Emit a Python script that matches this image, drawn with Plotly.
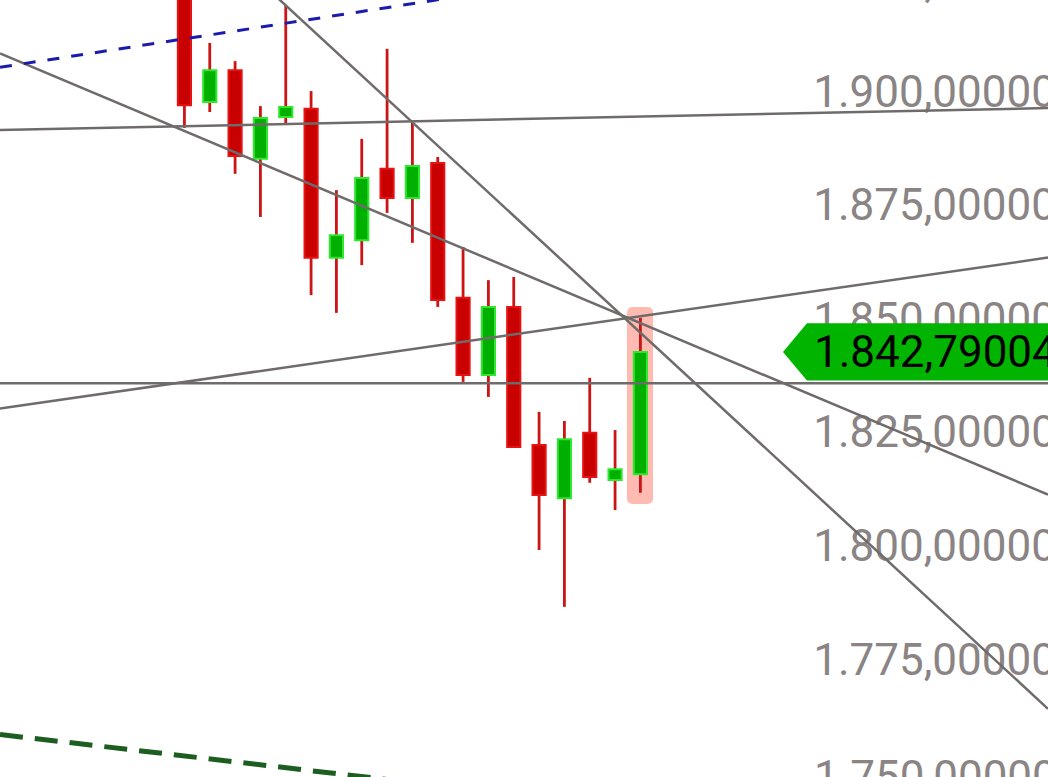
import plotly.graph_objects as go

# ---- data ----
opens = [1930.0, 1897.8, 1904.8, 1885.3, 1894.5, 1896.3, 1863.5, 1867.4, 1883.1, 1876.7,
         1884.4, 1854.7, 1837.7, 1852.7, 1822.3, 1810.6, 1825.0, 1814.6, 1815.9]
highs = [1934.0, 1910.8, 1906.8, 1896.9, 1919.1, 1900.2, 1878.4, 1889.7, 1909.5, 1893.4,
         1885.7, 1865.9, 1858.6, 1859.3, 1829.6, 1827.6, 1837.1, 1825.6, 1850.3]
lows = [1892.1, 1895.6, 1882.0, 1872.5, 1893.0, 1855.3, 1851.4, 1861.9, 1873.4, 1866.8,
        1852.7, 1836.2, 1832.9, 1821.9, 1799.2, 1786.7, 1814.0, 1808.0, 1811.8]
closes = [1897.1, 1904.8, 1885.9, 1894.3, 1896.7, 1863.5, 1868.5, 1881.1, 1876.7, 1883.7,
          1854.2, 1837.7, 1852.7, 1821.9, 1811.3, 1823.6, 1815.3, 1817.0, 1842.79]

tick_values = [1925, 1900, 1875, 1850, 1825, 1800, 1775, 1750]
last_price = 1842.79004

# trend lines (index, price) endpoints
gray_lines_x = [[-7.28, 34.09], [-7.28, 34.09], [3.0, 34.09], [-7.28, 34.09], [-7.28, 34.09]]
gray_lines_y = [[1891.64, 1896.48], [1908.49, 1811.40], [1924.2, 1764.25], [1830.35, 1863.56],
                [1835.9, 1835.9]]
blue_line_x = [-7.28, 20.0]
blue_line_y = [1905.44, 1928.9]
green_line_x = [-7.28, 12.0]
green_line_y = [1758.6, 1746.1]

x_range = [-7.28, 34.09]
y_range = [1749.25, 1920.25]
label_offset = -0.8


def fmt(v, d=5):
    s = f"{v:,.{d}f}"
    return s.replace(",", "X").replace(".", ",").replace("X", ".")


idx = list(range(len(opens)))
up = [c >= o for o, c in zip(opens, closes)]
fills = ["#00b000" if u else "#c80000" for u in up]
borders = ["#2ee82e" if u else "#e81212" for u in up]
tick_font = dict(family="Roboto", size=44, color="#8a8484")

inside = [v for v in tick_values if y_range[0] <= v + label_offset <= y_range[1]]
outside = [v for v in tick_values if v not in inside]

fig = go.Figure()

# tick labels inside the axis range (drawn inside the plot, overflowing to the right)
fig.add_trace(go.Scatter(
    x=[24.82] * len(inside), y=[v + label_offset for v in inside], mode="text",
    text=[fmt(v) for v in inside], textposition="middle right", textfont=tick_font,
    cliponaxis=False, hoverinfo="skip", showlegend=False))

# tick labels whose centre lies just beyond the axis range
for v in outside:
    fig.add_annotation(x=812 / 1048, xref="paper",
                       y=(v + label_offset - y_range[0]) / (y_range[1] - y_range[0]),
                       yref="paper", text=fmt(v), xanchor="left", yanchor="middle",
                       showarrow=False, font=tick_font)

# wicks
fig.add_trace(go.Bar(
    x=idx, y=[h - l for h, l in zip(highs, lows)], base=lows, width=0.11,
    marker=dict(color="#cc1414", line=dict(width=0)), showlegend=False))

# bodies
fig.add_trace(go.Bar(
    x=idx, y=[abs(c - o) for o, c in zip(opens, closes)],
    base=[min(o, c) for o, c in zip(opens, closes)], width=0.52,
    marker=dict(color=fills, line=dict(color=borders, width=2)), showlegend=False))

# trend lines
for xs, ys in zip(gray_lines_x, gray_lines_y):
    fig.add_trace(go.Scatter(x=xs, y=ys, mode="lines",
                             line=dict(color="#6f6b6b", width=2.5), showlegend=False))
fig.add_trace(go.Scatter(x=blue_line_x, y=blue_line_y, mode="lines",
                         line=dict(color="#1c1caa", width=3, dash="12px,12px"), showlegend=False))
fig.add_trace(go.Scatter(x=green_line_x, y=green_line_y, mode="lines",
                         line=dict(color="#1b5e20", width=5, dash="23px,12px"), showlegend=False))

# highlight around last candle (rounded rect)
k = len(opens) - 1
x0, x1 = k - 0.53, k + 0.50
y0, y1 = lows[k] - 2.47, highs[k] + 2.38
rx, ry = 0.24, 1.3
path = (f"M {x0+rx},{y1} L {x1-rx},{y1} Q {x1},{y1} {x1},{y1-ry} "
        f"L {x1},{y0+ry} Q {x1},{y0} {x1-rx},{y0} L {x0+rx},{y0} "
        f"Q {x0},{y0} {x0},{y0+ry} L {x0},{y1-ry} Q {x0},{y1} {x0+rx},{y1} Z")
fig.add_shape(type="path", path=path, xref="x", yref="y", layer="below",
              fillcolor="#ffbab2", line=dict(width=0))

# price label
h = 6.3
xt, xs_, xe = 783 / 1048, 807 / 1048, 1.0
lp = last_price
fig.add_shape(type="path", xref="paper", yref="y", layer="above",
              path=f"M {xt},{lp} L {xs_},{lp+h} L {xe},{lp+h} L {xe},{lp-h} L {xs_},{lp-h} Z",
              fillcolor="#00b400", line=dict(width=0))
fig.add_annotation(x=812 / 1048, xref="paper", y=lp, yref="y", text=fmt(lp),
                   xanchor="left", yanchor="middle", showarrow=False,
                   font=dict(family="Roboto", size=44, color="#000000"))

fig.update_layout(
    width=1048, height=777, margin=dict(l=0, r=0, t=0, b=0),
    paper_bgcolor="white", plot_bgcolor="white", barmode="overlay",
    xaxis=dict(range=x_range, visible=False, showgrid=False, zeroline=False),
    yaxis=dict(range=y_range, visible=False, showgrid=False, zeroline=False),
    showlegend=False)

fig.write_html("out.html", config={"displayModeBar": False},
               post_script="document.body.style.margin='0px';"
                           "document.body.style.overflow='hidden';")
